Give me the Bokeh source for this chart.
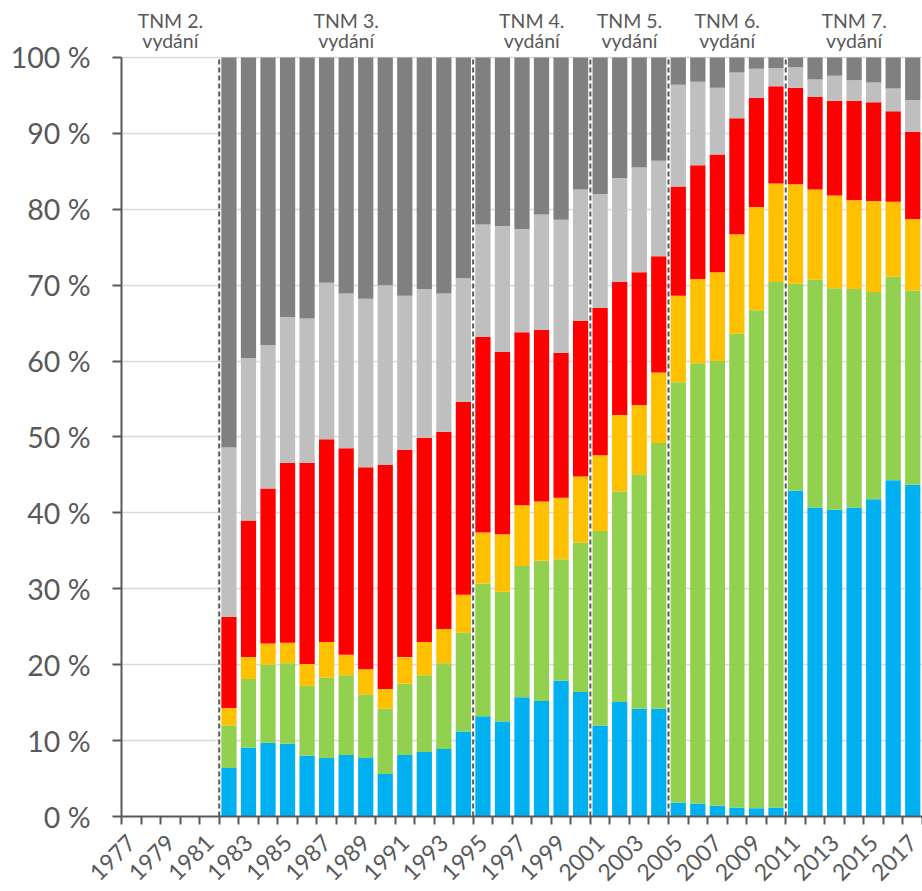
from bokeh.plotting import figure
from bokeh.models import ColumnDataSource, FixedTicker, CustomJSTickFormatter, Range1d
from bokeh.core.properties import value
from bokeh.embed import file_html
from bokeh.resources import INLINE

# ---- data -------------------------------------------------------------
years = [1982, 1983, 1984, 1985, 1986, 1987, 1988, 1989, 1990, 1991, 1992, 1993,
         1994, 1995, 1996, 1997, 1998, 1999, 2000, 2001, 2002, 2003, 2004, 2005,
         2006, 2007, 2008, 2009, 2010, 2011, 2012, 2013, 2014, 2015, 2016, 2017]

blue_vals = [6.4, 9.1, 9.7, 9.6, 8.0, 7.7, 8.1, 7.7, 5.6, 8.1, 8.5, 8.9,
             11.2, 13.2, 12.5, 15.7, 15.2, 17.9, 16.4, 12.0, 15.1, 14.2, 14.2, 1.8,
             1.7, 1.4, 1.2, 1.1, 1.2, 42.9, 40.7, 40.4, 40.7, 41.8, 44.3, 43.7]
green_vals = [5.6, 9.0, 10.3, 10.6, 9.2, 10.6, 10.5, 8.4, 8.6, 9.4, 10.1, 11.3,
              13.0, 17.5, 17.1, 17.3, 18.5, 16.0, 19.7, 25.6, 27.7, 30.9, 35.0, 55.4,
              58.0, 58.6, 62.4, 65.6, 69.2, 27.3, 30.0, 29.2, 28.8, 27.3, 26.8, 25.6]
yellow_vals = [2.3, 2.9, 2.8, 2.7, 2.9, 4.7, 2.7, 3.3, 2.6, 3.5, 4.4, 4.5,
               5.0, 6.7, 7.6, 8.0, 7.8, 8.1, 8.7, 10.0, 10.1, 9.1, 9.3, 11.4,
               11.1, 11.7, 13.1, 13.6, 13.0, 13.1, 11.9, 12.2, 11.7, 12.0, 9.9, 9.4]
red_vals = [12.0, 18.0, 20.4, 23.7, 26.5, 26.7, 27.2, 26.6, 29.5, 27.3, 26.9, 26.0,
            25.4, 25.8, 24.0, 22.8, 22.6, 19.1, 20.5, 19.4, 17.5, 17.5, 15.3, 14.4,
            15.0, 15.5, 15.3, 14.4, 12.8, 12.7, 12.2, 12.5, 13.1, 13.0, 11.9, 11.5]
lightgray_vals = [22.3, 21.4, 18.9, 19.2, 19.0, 20.6, 20.4, 22.2, 23.7, 20.3, 19.6, 18.2,
                  16.3, 14.8, 16.6, 13.6, 15.2, 17.5, 17.3, 15.0, 13.7, 13.8, 12.6, 13.4,
                  11.0, 8.8, 6.0, 3.8, 2.4, 2.7, 2.3, 3.3, 2.7, 2.6, 3.0, 4.2]
darkgray_vals = [51.4, 39.6, 37.9, 34.2, 34.4, 29.7, 31.1, 31.8, 30.0, 31.4, 30.5, 31.1,
                 29.1, 22.0, 22.2, 22.6, 20.7, 21.4, 17.4, 18.0, 15.9, 14.5, 13.6, 3.6,
                 3.2, 4.0, 2.0, 1.5, 1.4, 1.3, 2.9, 2.4, 3.0, 3.3, 4.1, 5.6]

tick_years = [1977, 1979, 1981, 1983, 1985, 1987, 1989, 1991, 1993, 1995, 1997, 1999,
              2001, 2003, 2005, 2007, 2009, 2011, 2013, 2015, 2017]
first_year, last_year = 1977, 2017

edition_labels = ["TNM 2.", "TNM 3.", "TNM 4.", "TNM 5.", "TNM 6.", "TNM 7."]
edition_start = [1977, 1982, 1995, 2001, 2005, 2011]
edition_end = [1981, 1994, 2000, 2004, 2010, 2017]
y_ticks = [0, 10, 20, 30, 40, 50, 60, 70, 80, 90, 100]

# ---- styling -----------------------------------------------------------
colors = ["#00B0F0", "#92D050", "#FFC000", "#FF0000", "#BFBFBF", "#808080"]
FONT = "Lato"
TXT = "#595959"

src = ColumnDataSource(dict(year=years, blue=blue_vals, green=green_vals,
                            yellow=yellow_vals, red=red_vals,
                            lightgray=lightgray_vals, darkgray=darkgray_vals))

p = figure(width=922, height=891,
           x_range=Range1d(first_year - 0.5, last_year + 0.5),
           y_range=Range1d(0, 107.5),
           output_backend="svg", toolbar_location=None,
           min_border_left=121, min_border_right=0,
           min_border_top=0, min_border_bottom=74)
p.outline_line_color = None
p.background_fill_color = "white"

p.vbar_stack(["blue", "green", "yellow", "red", "lightgray", "darkgray"],
             x="year", width=0.78, color=colors, line_color=None, source=src)

# edition separators (dashed), at boundaries before each edition start
bounds = [s - 0.5 for s in edition_start[1:]]
p.segment(x0=bounds, y0=[0] * len(bounds), x1=bounds, y1=[100] * len(bounds),
          line_color="#595959", line_width=2, line_dash="5 3")

centers = [(s + e) / 2 for s, e in zip(edition_start, edition_end)]
p.text(x=centers, y=[104.87] * len(centers), text=edition_labels,
       text_align="center", text_baseline="middle", text_font=value(FONT),
       text_font_size="19.5px", text_color=TXT)
p.text(x=centers, y=[102.2] * len(centers), text=["vydání"] * len(centers),
       text_align="center", text_baseline="middle", text_font=value(FONT),
       text_font_size="19.5px", text_color=TXT)

# axes
p.xgrid.grid_line_color = None
p.ygrid.grid_line_color = "#D9D9D9"
p.ygrid.grid_line_width = 1.5

yax = p.yaxis[0]
yax.ticker = FixedTicker(ticks=y_ticks)
yax.bounds = (0, 100)
yax.formatter = CustomJSTickFormatter(code="return tick.toFixed(0) + ' %';")
yax.axis_line_color = "#595959"
yax.axis_line_width = 2
yax.major_tick_line_color = "#595959"
yax.major_tick_line_width = 2
yax.major_tick_out = 9
yax.major_tick_in = 0
yax.minor_tick_line_color = None
yax.major_label_text_font = FONT
yax.major_label_text_font_size = "28.5px"
yax.major_label_text_color = TXT
yax.major_label_standoff = 22

xax = p.xaxis[0]
xax.ticker = FixedTicker(ticks=tick_years,
                         minor_ticks=[y - 0.5 for y in range(first_year, last_year + 2)])
xax.axis_line_color = "#595959"
xax.axis_line_width = 2
xax.major_tick_line_color = None
xax.minor_tick_line_color = "#595959"
xax.minor_tick_line_width = 2
xax.minor_tick_out = 8
xax.minor_tick_in = 0
xax.major_label_orientation = 0.785398
xax.major_label_text_font = FONT
xax.major_label_text_font_size = "23px"
xax.major_label_text_color = TXT
xax.major_label_standoff = 14

open("out.html", "w").write(file_html(p, INLINE))
